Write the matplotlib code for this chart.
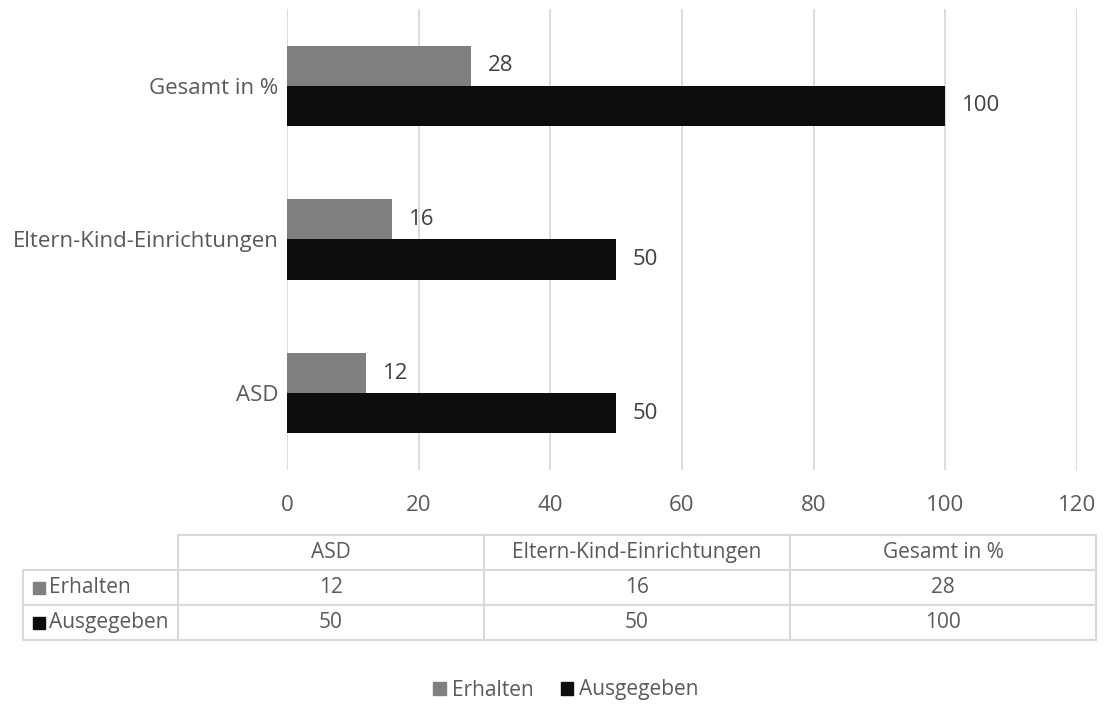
import matplotlib.pyplot as plt
import numpy as np
from matplotlib.patches import Rectangle

plt.rcParams['font.family'] = ['Open Sans', 'DejaVu Sans']

categories = ["ASD", "Eltern-Kind-Einrichtungen", "Gesamt in %"]
erhalten = [12, 16, 28]
ausgegeben = [50, 50, 100]
series = ["Erhalten", "Ausgegeben"]
colors = ["#808080", "#0d0d0d"]
text_col = "#595959"
grid_col = "#d9d9d9"
fs = 16
fs_tab = 15

W, H = 1105, 709
fig = plt.figure(figsize=(W / 100, H / 100), dpi=100)


def px(x0, y0, x1, y1):
    # pixel box (top-left origin) -> figure fraction rect
    return [x0 / W, 1 - y1 / H, (x1 - x0) / W, (y1 - y0) / H]


ax = fig.add_axes(px(287, 9, 1077, 470))
y = np.arange(len(categories))
h = 0.262
ax.barh(y + h / 2, erhalten, height=h, color=colors[0], zorder=3)
ax.barh(y - h / 2, ausgegeben, height=h, color=colors[1], zorder=3)
for i in range(len(categories)):
    ax.annotate(str(erhalten[i]), (erhalten[i], y[i] + h / 2), xytext=(12, 0),
                textcoords="offset points", va="center", ha="left",
                fontsize=fs, color="#404040")
    ax.annotate(str(ausgegeben[i]), (ausgegeben[i], y[i] - h / 2), xytext=(12, 0),
                textcoords="offset points", va="center", ha="left",
                fontsize=fs, color="#404040")

ax.set_xlim(0, 120)
ax.set_ylim(-0.5, 2.5)
ax.set_xticks(range(0, 121, 20))
ax.set_yticks(y)
ax.set_yticklabels(categories)
ax.tick_params(length=0, labelsize=fs, colors=text_col, pad=6)
ax.tick_params(axis="x", pad=18)
ax.xaxis.grid(True, color=grid_col, lw=1.3, zorder=0)
for s in ax.spines.values():
    s.set_visible(False)

# data table under the chart
tab = fig.add_axes([0, 0, 1, 1])
tab.set_xlim(0, W)
tab.set_ylim(H, 0)
tab.axis("off")
cols = [178, 484, 790, 1096]
rows = [535, 570, 605, 640]
lw = 1.5
tab.plot([cols[0], cols[-1]], [rows[0], rows[0]], color=grid_col, lw=lw)
for r in rows[1:]:
    tab.plot([23, cols[-1]], [r, r], color=grid_col, lw=lw)
tab.plot([cols[0], cols[0]], [rows[0], rows[-1]], color=grid_col, lw=lw)
tab.plot([23, 23], [rows[1], rows[-1]], color=grid_col, lw=lw)
for c in cols[1:]:
    tab.plot([c, c], [rows[0], rows[-1]], color=grid_col, lw=lw)
for j, cat in enumerate(categories):
    xc = (cols[j] + cols[j + 1]) / 2
    tab.text(xc, (rows[0] + rows[1]) / 2, cat, ha="center", va="center",
             fontsize=fs_tab, color=text_col)
    tab.text(xc, (rows[1] + rows[2]) / 2, str(erhalten[j]), ha="center",
             va="center", fontsize=fs_tab, color=text_col)
    tab.text(xc, (rows[2] + rows[3]) / 2, str(ausgegeben[j]), ha="center",
             va="center", fontsize=fs_tab, color=text_col)
for k, name in enumerate(series):
    yc = (rows[k + 1] + rows[k + 2]) / 2
    tab.add_patch(Rectangle((33, yc - 6), 12, 12, color=colors[k]))
    tab.text(49, yc, name, ha="left", va="center", fontsize=fs_tab, color=text_col)

# legend
handles = [Rectangle((0, 0), 1, 1, color=c) for c in colors]
fig.legend(handles, series, loc="center", bbox_to_anchor=(566 / W, 1 - 690 / H),
           ncol=2, frameon=False, fontsize=fs_tab, handlelength=0.6, handleheight=0.6,
           handletextpad=0.3, columnspacing=1.3, labelcolor=text_col)

fig.savefig("out.png", dpi=100)
